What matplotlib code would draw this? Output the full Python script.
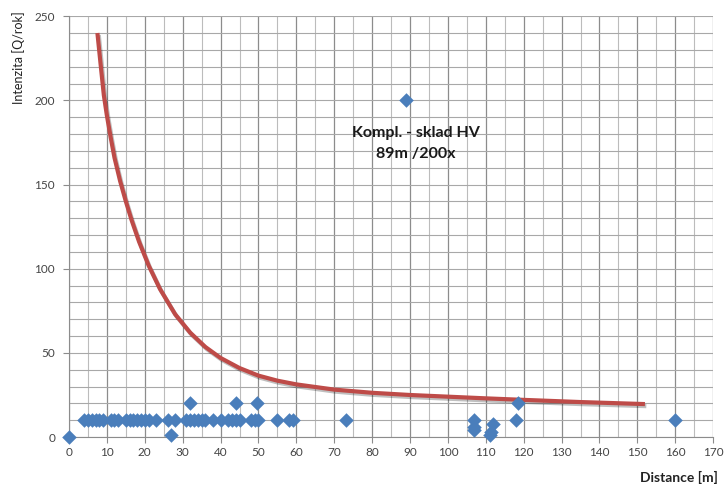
import matplotlib
matplotlib.use("Agg")
import matplotlib.pyplot as plt
import matplotlib.patheffects as pe
from matplotlib.ticker import MultipleLocator

# Measured objects: distance [m] and intensity [Q/rok]
dist_10 = [4, 5, 6, 7, 8, 9, 11, 12, 13, 15, 16, 17, 18, 19, 20, 21, 23, 26, 28,
           31, 32, 33, 34, 35, 36, 38, 40, 42, 43, 44, 45, 48, 49, 50, 55, 58, 59,
           73, 107, 118, 160]
intens_10 = [10] * len(dist_10)
dist_other = [0, 27, 32, 44, 49.5, 118.5, 89, 107, 107, 112, 111.5, 111]
intens_other = [0, 1, 20, 20, 20, 20, 200, 6, 4, 8, 3, 1]

# Trend of intensity vs. distance
trend_x = [7.5, 8.5, 9.2, 10, 11, 12, 13.5, 15, 16.5, 18.5, 21, 24, 28, 32, 36,
           40, 45, 50, 55, 60, 70, 80, 90, 100, 110, 120, 135, 152]
trend_y = [240, 218, 203, 191, 178, 166, 152, 140, 129, 116, 102, 88, 73, 62,
           53.5, 47, 41, 36.5, 33.5, 31.3, 28.2, 26.3, 25, 24, 23, 22.1, 20.8,
           19.6]

label_name = "Kompl. - sklad HV\n89m /200x"

plt.rcParams['font.family'] = ['Lato', 'DejaVu Sans']

fig = plt.figure(figsize=(7.24, 4.9), dpi=100)
ax = fig.add_axes([0.0953, 0.108, 0.8897, 0.859])

ax.set_xlim(0, 170)
ax.set_ylim(0, 250)
ax.xaxis.set_major_locator(MultipleLocator(10))
ax.xaxis.set_minor_locator(MultipleLocator(5))
ax.yaxis.set_major_locator(MultipleLocator(50))
ax.yaxis.set_minor_locator(MultipleLocator(10))

ax.grid(True, which='major', axis='x', color='#8c8c8c', linewidth=0.9)
ax.grid(True, which='minor', axis='x', color='#bcbcbc', linewidth=0.8)
ax.grid(True, which='both', axis='y', color='#a8a8a8', linewidth=0.8)
ax.set_axisbelow(True)

for s in ['top', 'right']:
    ax.spines[s].set_visible(False)
for s in ['left', 'bottom']:
    ax.spines[s].set_color('#8c8c8c')

ax.tick_params(axis='both', which='major', labelsize=8.5, colors='#444444',
               length=4, color='#8c8c8c')
ax.tick_params(axis='y', which='major', pad=6)
ax.tick_params(axis='both', which='minor', length=0)

ax.plot(trend_x, trend_y, color='#be4b48', linewidth=3, solid_capstyle='butt',
        solid_joinstyle='round', zorder=3,
        path_effects=[pe.SimpleLineShadow(offset=(1, -1.5), alpha=0.25),
                      pe.Normal()])

ax.scatter(dist_10, intens_10, marker='D', s=55, color='#4a7ebb', zorder=4,
           clip_on=False, linewidths=0)
ax.scatter(dist_other, intens_other, marker='D', s=55, color='#4a7ebb',
           zorder=4, clip_on=False, linewidths=0)

ax.text(91.6, 174.3, label_name, ha='center', va='center', fontsize=11.5,
        fontweight='bold', color='#1a1a1a', linespacing=1.6)

fig.text(0.026, 0.978, "Intenzita [Q/rok]", rotation=90, ha='center',
         va='top', fontsize=9, color='#222222')
fig.text(0.992, 0.012, "Distance [m]", ha='right', va='bottom', fontsize=10,
         fontweight='bold', color='#222222')

fig.savefig("out.png", dpi=100)
